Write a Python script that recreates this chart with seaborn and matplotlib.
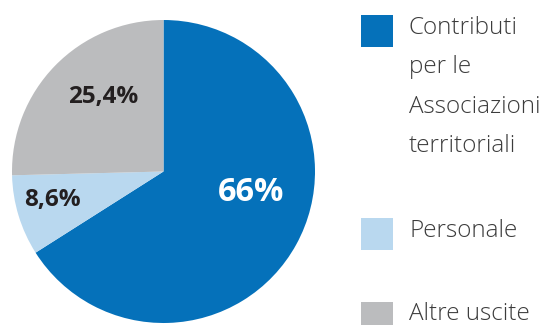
import matplotlib
matplotlib.use("Agg")
import matplotlib.pyplot as plt
import seaborn as sns
from matplotlib.patches import Rectangle

# data
categories = ["Contributi\nper le\nAssociazioni\nterritoriali", "Personale", "Altre uscite"]
values = [66, 8.6, 25.4]
value_labels = ["66%", "8,6%", "25,4%"]
colors = ["#0571ba", "#b9d8ef", "#bbbcbe"]
label_colors = ["white", "#231f20", "#231f20"]
label_sizes = [23.5, 17.5, 17.5]

sns.set_theme(style="white")
plt.rcParams["font.family"] = ["Open Sans", "DejaVu Sans"]

W, H = 548, 325
fig = plt.figure(figsize=(W / 100, H / 100), dpi=100)

# pie axes: circle spans x 12..315, y 20..323 (pixels from top)
ax = fig.add_axes([12 / W, (H - 323) / H, 303 / W, 303 / H])
ax.pie(values, colors=colors, startangle=90, counterclock=False,
       wedgeprops=dict(linewidth=0))
ax.set_aspect("equal")
ax.set_xlim(-1, 1)
ax.set_ylim(-1, 1)
ax.axis("off")

label_pos = [(0.58, -0.14), (-0.73, -0.19), (-0.40, 0.49)]
for (x, y), txt, c, s in zip(label_pos, value_labels, label_colors, label_sizes):
    ax.text(x, y, txt, color=c, fontsize=s, fontweight="bold",
            ha="center", va="center")

# legend on the right
legend_tops = [15, 218, 302]
text_tops = [16, 219, 302]
for top, ttop, cat, col in zip(legend_tops, text_tops, categories, colors):
    fig.add_artist(Rectangle((361 / W, (H - top - 32) / H), 32 / W, 32 / H,
                             transform=fig.transFigure, color=col, lw=0))
    fig.text(409 / W, (H - ttop) / H, cat, fontsize=17.5, color="#3c3c3c",
             ha="left", va="top", linespacing=1.85, fontweight="light")

fig.savefig("out.png", dpi=100)
